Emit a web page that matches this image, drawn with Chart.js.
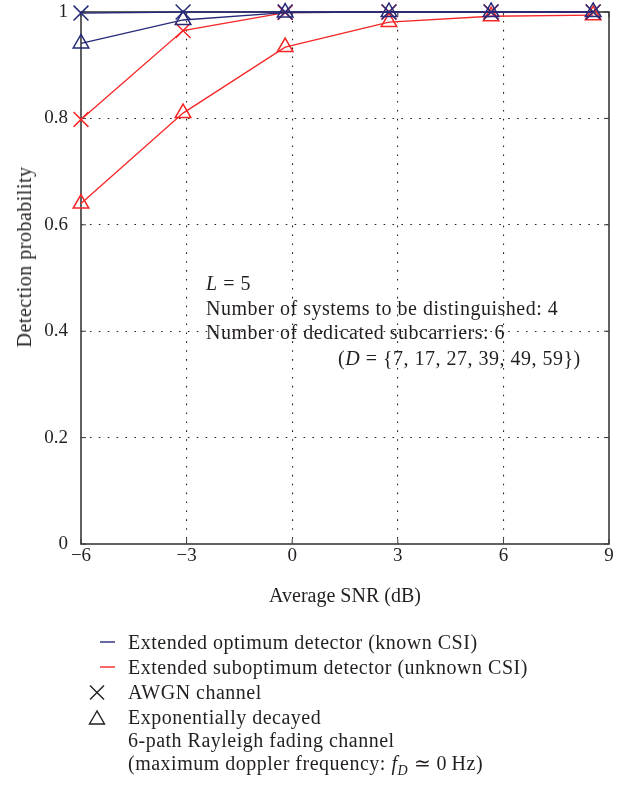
<!DOCTYPE html>
<html>
<head>
<meta charset="utf-8">
<script src="https://cdn.jsdelivr.net/npm/chart.js@4/dist/chart.umd.min.js"></script>
<style>
  html, body { margin: 0; padding: 0; background: #fff; }
  body { width: 627px; height: 786px; position: relative; overflow: hidden;
         font-family: "Liberation Serif", "Times New Roman", serif; color: #231f20; }
  #chartBox { position: absolute; left: 0; top: 0; width: 627px; height: 609px; }
  .txt { position: absolute; font-size: 20px; line-height: 22px; letter-spacing: 0.5px; white-space: nowrap; }
  #ytitle { left: 24px; top: 257px; transform: translate(-50%, -50%) rotate(-90deg); }
  svg.sym { position: absolute; left: 0; top: 0; overflow: visible; }
</style>
</head>
<body>
<div id="chartBox"><canvas id="c" width="627" height="609"></canvas></div>

<div class="txt" id="ytitle">Detection probability</div>

<div class="txt" style="left:206px; top:272px;"><i>L</i>&nbsp;=&nbsp;5</div>
<div class="txt" style="left:206px; top:297px;">Number of systems to be distinguished: 4</div>
<div class="txt" style="left:206px; top:321px;">Number of dedicated subcarriers: 6</div>
<div class="txt" style="left:338px; top:347px;">(<i>D</i> = {7, 17, 27, 39, 49, 59})</div>

<svg class="sym" width="627" height="786">
  <line x1="100" y1="642" x2="115" y2="642" stroke="#262a78" stroke-width="1.4"/>
  <line x1="100" y1="667" x2="115" y2="667" stroke="#f52626" stroke-width="1.4"/>
  <line x1="90" y1="685.5" x2="104" y2="699.5" stroke="#231f20" stroke-width="1.4"/>
  <line x1="104" y1="685.5" x2="90" y2="699.5" stroke="#231f20" stroke-width="1.4"/>
  <polygon points="97,711 89.5,724 104.5,724" fill="none" stroke="#231f20" stroke-width="1.4"/>
</svg>
<div class="txt" style="left:128px; top:631px;">Extended optimum detector (known CSI)</div>
<div class="txt" style="left:128px; top:656px;">Extended suboptimum detector (unknown CSI)</div>
<div class="txt" style="left:128px; top:681px;">AWGN channel</div>
<div class="txt" style="left:128px; top:706px;">Exponentially decayed</div>
<div class="txt" style="left:128px; top:729px;">6-path Rayleigh fading channel</div>
<div class="txt" style="left:128px; top:752px;">(maximum doppler frequency: <i>f</i><sub style="font-size:14px;"><i>D</i></sub> &#8771; 0&thinsp;Hz)</div>

<script>
// ---- data ----
const snrDb = [-6, -3.1, -0.2, 2.75, 5.65, 8.55];
const optimumAwgn = [0.998, 1, 1, 1, 1, 1];
const optimumRayleigh = [0.941, 0.985, 0.999, 1, 1, 1];
const suboptimumAwgn = [0.798, 0.965, 0.999, 1, 1, 1];
const suboptimumRayleigh = [0.64, 0.81, 0.934, 0.981, 0.992, 0.994];
const xTickValues = [-6, -3, 0, 3, 6, 9];
const yTickValues = [0, 0.2, 0.4, 0.6, 0.8, 1];

const BLUE = '#262a78';
const RED = '#f52626';
const FONT = { family: '"Liberation Serif", "Times New Roman", serif', size: 19 };
const TITLE_FONT = { family: '"Liberation Serif", "Times New Roman", serif', size: 20 };

function pts(ys) { return snrDb.map((x, i) => ({ x: x, y: ys[i] })); }
function series(label, ys, color, style, radius) {
  return {
    label: label, data: pts(ys), borderColor: color, borderWidth: 1.3,
    pointStyle: style, pointRadius: radius, pointBorderColor: color,
    pointBackgroundColor: 'rgba(0,0,0,0)', pointBorderWidth: 1.5,
    fill: false, tension: 0, clip: false
  };
}
function fmtX(v) { return v < 0 ? '\u2212' + Math.abs(v) : String(v); }
function fmtY(v) { return (v === 0 || v === 1) ? String(v) : v.toFixed(1); }

const frame = {
  id: 'frame',
  beforeDatasetsDraw(chart) {
    const { ctx, chartArea: a, scales } = chart;
    ctx.save();
    ctx.strokeStyle = '#3a3a3a';
    ctx.lineWidth = 1;
    const L = 5;
    ctx.beginPath();
    xTickValues.forEach(v => {
      const px = scales.x.getPixelForValue(v);
      ctx.moveTo(px, a.bottom); ctx.lineTo(px, a.bottom - L);
      ctx.moveTo(px, a.top); ctx.lineTo(px, a.top + L);
    });
    yTickValues.forEach(v => {
      const py = scales.y.getPixelForValue(v);
      ctx.moveTo(a.left, py); ctx.lineTo(a.left + L, py);
      ctx.moveTo(a.right, py); ctx.lineTo(a.right - L, py);
    });
    ctx.stroke();
    ctx.lineWidth = 1.6;
    ctx.strokeRect(a.left, a.top, a.right - a.left, a.bottom - a.top);
    ctx.restore();
  }
};

const gridColor = (edgeA, edgeB) => (c) =>
  (c.tick && (c.tick.value === edgeA || c.tick.value === edgeB)) ? 'rgba(0,0,0,0)' : '#222';

new Chart(document.getElementById('c'), {
  type: 'line',
  data: {
    datasets: [
      series('Extended optimum detector, AWGN channel', optimumAwgn, BLUE, 'crossRot', 10.5),
      series('Extended optimum detector, Rayleigh fading', optimumRayleigh, BLUE, 'triangle', 9),
      series('Extended suboptimum detector, AWGN channel', suboptimumAwgn, RED, 'crossRot', 10.5),
      series('Extended suboptimum detector, Rayleigh fading', suboptimumRayleigh, RED, 'triangle', 9)
    ]
  },
  options: {
    responsive: false,
    animation: false,
    devicePixelRatio: 1,
    layout: { padding: { left: 0, right: 18, top: 11, bottom: 0 } },
    plugins: { legend: { display: false }, tooltip: { enabled: false } },
    scales: {
      x: {
        type: 'linear', min: -6, max: 9,
        afterBuildTicks: s => { s.ticks = xTickValues.map(v => ({ value: v })); },
        afterFit: s => { s.height = 65; s.paddingLeft = 0; s.paddingRight = 0; },
        ticks: { callback: fmtX, font: FONT, color: '#231f20', padding: 1, maxRotation: 0, autoSkip: false },
        grid: { drawTicks: false, color: gridColor(-6, 9), lineWidth: 1.1 },
        border: { display: false, dash: [1.6, 7.3] },
        title: { display: true, text: 'Average SNR (dB)', font: TITLE_FONT, color: '#231f20', padding: { top: 0, bottom: 0 } }
      },
      y: {
        type: 'linear', min: 0, max: 1,
        afterBuildTicks: s => { s.ticks = yTickValues.map(v => ({ value: v })); },
        afterFit: s => { s.width = 81; s.paddingTop = 0; s.paddingBottom = 0; },
        ticks: { callback: fmtY, font: FONT, color: '#231f20', padding: 13 },
        grid: { drawTicks: false, color: gridColor(0, 1), lineWidth: 1.1 },
        border: { display: false, dash: [1.6, 7.3] }
      }
    }
  },
  plugins: [frame]
});
</script>
</body>
</html>
